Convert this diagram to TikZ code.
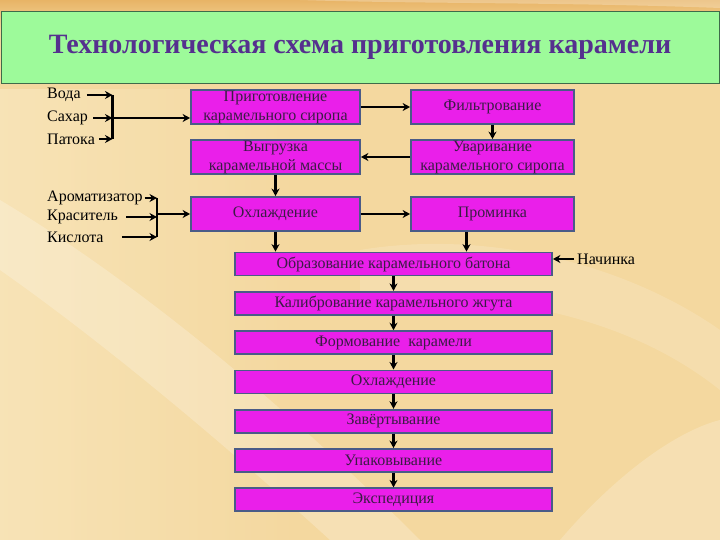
\documentclass[tikz,border=0pt]{standalone}
\usepackage{fontspec}
\setmainfont{Liberation Serif}
\usepackage{xcolor}
\usetikzlibrary{arrows.meta,positioning,calc}
\definecolor{bgmid}{HTML}{F4D89F}
\definecolor{bglight}{HTML}{FAEBC6}
\definecolor{bgdark}{HTML}{E8B466}
\definecolor{headfill}{HTML}{9DFA9A}
\definecolor{headline}{HTML}{3E6B4A}
\definecolor{headtext}{HTML}{55308E}
\definecolor{stagefill}{HTML}{EA1FEA}
\definecolor{stageline}{HTML}{4A5B87}
\definecolor{stagetext}{HTML}{3B1C45}

\begin{document}
\begin{tikzpicture}[x=1pt, y=-1pt,
    stage/.style={draw=stageline, line width=1.8pt, fill=stagefill, text=stagetext,
        font=\fontsize{16}{19}\selectfont, align=center, inner sep=0pt},
    wide/.style={stage, minimum width=317pt, minimum height=23pt},
    half/.style={stage, minimum height=34pt},
    input/.style={anchor=west, inner sep=0pt, font=\fontsize{16}{18}\selectfont},
    flow/.style={-{Stealth[length=7.5pt, width=8pt]}, line width=2.6pt},
    bar/.style={line width=2.6pt}
]
\useasboundingbox (0,0) rectangle (720,540);

% фон
\fill[bgmid] (0,0) rectangle (720,540);
\shade[top color=bgdark, bottom color=bgmid] (0,0) rectangle (720,30);
\shade[left color=bglight, right color=bgmid, opacity=.6] (0,90) rectangle (300,540);
\fill[white, opacity=.22] (0,200) .. controls (150,290) and (300,420) .. (420,540)
    -- (330,540) .. controls (220,440) and (100,340) .. (0,270) -- cycle;
\fill[white, opacity=.15] (360,250) .. controls (480,230) and (620,260) .. (720,330)
    -- (720,390) .. controls (620,310) and (480,290) .. (360,300) -- cycle;
\fill[white, opacity=.2] (560,540) .. controls (620,470) and (680,430) .. (720,420)
    -- (720,540) -- cycle;
\fill[white, opacity=.25] (300,0) .. controls (420,4) and (560,2) .. (720,8)
    -- (720,0) -- cycle;

% заголовок
\node[draw=headline, line width=.8pt, fill=headfill, minimum width=718pt, minimum height=72pt,
    inner sep=0pt, text=headtext, font=\bfseries\fontsize{28}{34}\selectfont] (head) at (360,47)
    {Технологическая схема приготовления карамели};

% верхние блоки
\node[half, minimum width=169pt] (syrup) at (275.5,107) {Приготовление\\карамельного сиропа};
\node[half, minimum width=163pt] (filter) at (492.5,107) {Фильтрование};
\node[half, minimum width=169pt] (unload) at (275.5,157) {Выгрузка\\карамельной массы};
\node[half, minimum width=163pt] (boil) at (492.5,157) {Уваривание\\карамельного сиропа};
\node[half, minimum width=169pt] (cool) at (275.5,214) {Охлаждение};
\node[half, minimum width=163pt] (knead) at (492.5,214) {Проминка};

% основная линия
\foreach \lbl [count=\i] in {Образование карамельного батона, Калибрование карамельного жгута,
    Формование~~карамели, Охлаждение, Завёртывание, Упаковывание, Экспедиция} {
    \node[wide] (r\i) at (393.5,{264+39.3*(\i-1)}) {\lbl};
}
\foreach \i [evaluate=\i as \j using int(\i+1)] in {1,...,6} {
    \draw[flow] (r\i.south) -- (r\j.north);
}

% сырьё
\node[input] (voda) at (47,95) {Вода};
\node[input] (sahar) at (47,118) {Сахар};
\node[input] (patoka) at (47,139) {Патока};
\node[input] (arom) at (47,198) {Ароматизатор};
\node[input] (krasit) at (47,217) {Краситель};
\node[input] (kislota) at (47,237) {Кислота};
\node[input] (filling) at (577,259) {Начинка};

\coordinate (b1) at (112.5,118);
\coordinate (b2) at (157,214);
\draw[flow, shorten <=6pt] (voda.east) -- (voda.east -| b1);
\draw[flow, shorten <=5pt] (sahar.east) -- (sahar.east -| b1);
\draw[flow, shorten <=4pt] (patoka.east) -- (patoka.east -| b1);
\draw[bar] (voda.east -| b1) -- (patoka.east -| b1);
\draw[flow] (b1) -- (b1 -| syrup.west);
\draw[flow, shorten <=2pt] (arom.east) -- (arom.east -| b2);
\draw[flow, shorten <=8pt] (krasit.east) -- (krasit.east -| b2);
\draw[flow, shorten <=18pt] (kislota.east) -- (kislota.east -| b2);
\draw[bar] (arom.east -| b2) -- (kislota.east -| b2);
\draw[flow] (b2) -- (b2 -| cool.west);

% связи
\draw[flow] (syrup) -- (filter);
\draw[flow] (filter) -- (boil);
\draw[flow] (boil) -- (unload);
\draw[flow] (unload) -- (cool);
\draw[flow] (cool) -- (knead);
\draw[flow] (cool.south) -- (cool.south |- r1.north);
\draw[flow] ([xshift=-26pt]knead.south) -- ([xshift=-26pt]knead.south |- r1.north);
\draw[flow, shorten <=3pt] (filling.west) -- (filling.west -| r1.east);
\end{tikzpicture}
\end{document}
